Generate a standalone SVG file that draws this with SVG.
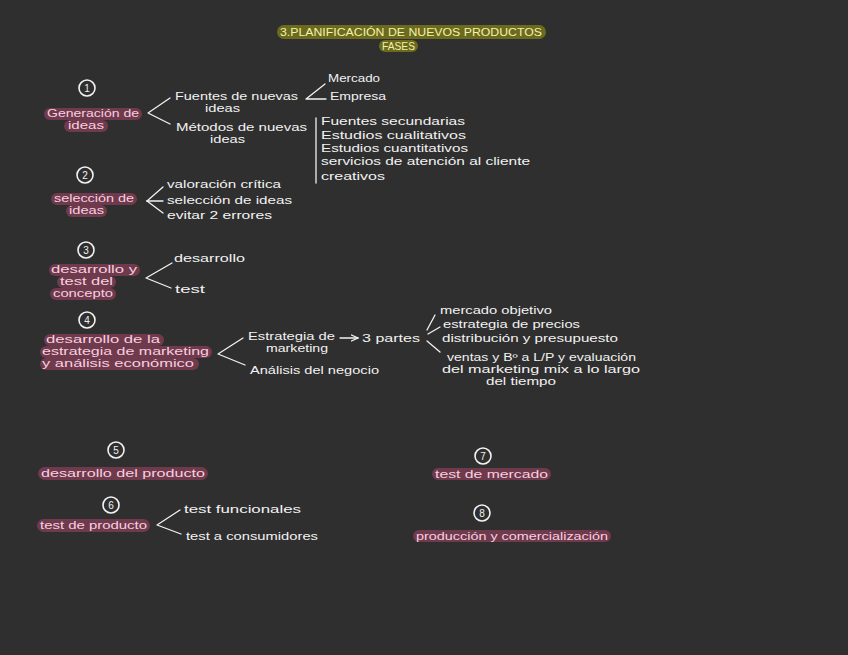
<svg xmlns="http://www.w3.org/2000/svg" width="848" height="655" viewBox="0 0 848 655">
<defs>
<style>
text{font-family:"Liberation Sans","DejaVu Sans",sans-serif;font-size:10px}
.w{fill:#f2f2f2}
.p{fill:#f7cfe0}
.y{fill:#f3f2a6;font-size:11px}
.hl{fill:#6f3a4c}
.hy{fill:#6b6a1f}
.c{fill:none;stroke:#f2f2f2;stroke-width:1.6}
.n{fill:#f2f2f2;font-size:10px;text-anchor:middle}
.ln{fill:none;stroke:#f2f2f2;stroke-width:1.3;stroke-linecap:round;stroke-linejoin:round}
</style>
<marker id="ah" viewBox="0 0 10 10" refX="9" refY="5" markerWidth="6" markerHeight="6" orient="auto"><path d="M0,1 L9,5 L0,9" fill="none" stroke="#f2f2f2" stroke-width="1.5"/></marker>
</defs>
<rect width="848" height="655" fill="#2f2f2f"/>

<g id="title">
<rect class="hy" x="277" y="25" width="269" height="14" rx="7"/>
<text class="y" x="280" y="36" textLength="262" lengthAdjust="spacingAndGlyphs">3.PLANIFICACIÓN DE NUEVOS PRODUCTOS</text>
<rect class="hy" x="379" y="40" width="39" height="12" rx="6"/>
<text class="y" x="382" y="50" textLength="33" lengthAdjust="spacingAndGlyphs">FASES</text>
</g>

<g id="num1"><circle class="c" cx="87" cy="88" r="8"/><text class="n" x="87" y="91.5">1</text></g>
<g id="num2"><circle class="c" cx="85" cy="175" r="8"/><text class="n" x="85" y="178.5">2</text></g>
<g id="num3"><circle class="c" cx="86" cy="250" r="8"/><text class="n" x="86" y="253.5">3</text></g>
<g id="num4"><circle class="c" cx="87" cy="320" r="8"/><text class="n" x="87" y="323.5">4</text></g>
<g id="num5"><circle class="c" cx="116" cy="450" r="8"/><text class="n" x="116" y="453.5">5</text></g>
<g id="num6"><circle class="c" cx="111" cy="505" r="8"/><text class="n" x="111" y="508.5">6</text></g>
<g id="num7"><circle class="c" cx="483" cy="456" r="8"/><text class="n" x="483" y="459.5">7</text></g>
<g id="num8"><circle class="c" cx="482" cy="513" r="8"/><text class="n" x="482" y="516.5">8</text></g>

<g id="generacion">
<rect class="hl" x="44" y="108" width="98" height="12" rx="6"/>
<rect class="hl" x="64" y="120" width="44" height="12" rx="6"/>
<text class="p" x="47" y="117" textLength="92" lengthAdjust="spacingAndGlyphs">Generación de</text>
<text class="p" x="68" y="129" textLength="36" lengthAdjust="spacingAndGlyphs">ideas</text>
</g>
<g id="fuentes">
<text class="w" x="175" y="100" textLength="123" lengthAdjust="spacingAndGlyphs">Fuentes de nuevas</text>
<text class="w" x="205" y="112" textLength="35" lengthAdjust="spacingAndGlyphs">ideas</text>
</g>
<g id="metodos">
<text class="w" x="176" y="131" textLength="131" lengthAdjust="spacingAndGlyphs">Métodos de nuevas</text>
<text class="w" x="210" y="143" textLength="35" lengthAdjust="spacingAndGlyphs">ideas</text>
</g>
<g id="mercado"><text class="w" x="328" y="82" textLength="52" lengthAdjust="spacingAndGlyphs">Mercado</text></g>
<g id="empresa"><text class="w" x="330" y="100" textLength="56" lengthAdjust="spacingAndGlyphs">Empresa</text></g>
<g id="metodos-lista">
<text class="w" x="321" y="125" textLength="144" lengthAdjust="spacingAndGlyphs">Fuentes secundarias</text>
<text class="w" x="321" y="139" textLength="145" lengthAdjust="spacingAndGlyphs">Estudios cualitativos</text>
<text class="w" x="321" y="152" textLength="147" lengthAdjust="spacingAndGlyphs">Estudios cuantitativos</text>
<text class="w" x="321" y="165" textLength="209" lengthAdjust="spacingAndGlyphs">servicios de atención al cliente</text>
<text class="w" x="321" y="180" textLength="64" lengthAdjust="spacingAndGlyphs">creativos</text>
</g>

<g id="seleccion">
<rect class="hl" x="51" y="193" width="86" height="12" rx="6"/>
<rect class="hl" x="66" y="205" width="41" height="12" rx="6"/>
<text class="p" x="54" y="202" textLength="80" lengthAdjust="spacingAndGlyphs">selección de</text>
<text class="p" x="69" y="214" textLength="35" lengthAdjust="spacingAndGlyphs">ideas</text>
</g>
<g id="valoracion"><text class="w" x="167" y="188" textLength="114" lengthAdjust="spacingAndGlyphs">valoración crítica</text></g>
<g id="seleccion-ideas"><text class="w" x="167" y="204" textLength="125" lengthAdjust="spacingAndGlyphs">selección de ideas</text></g>
<g id="evitar"><text class="w" x="167" y="219" textLength="105" lengthAdjust="spacingAndGlyphs">evitar 2 errores</text></g>

<g id="concepto">
<rect class="hl" x="49" y="264" width="91" height="12" rx="6"/>
<rect class="hl" x="57" y="276" width="59" height="12" rx="6"/>
<rect class="hl" x="50" y="288" width="66" height="12" rx="6"/>
<text class="p" x="51" y="273" textLength="86" lengthAdjust="spacingAndGlyphs">desarrollo y</text>
<text class="p" x="60" y="285" textLength="53" lengthAdjust="spacingAndGlyphs">test del</text>
<text class="p" x="53" y="297" textLength="60" lengthAdjust="spacingAndGlyphs">concepto</text>
</g>
<g id="desarrollo"><text class="w" x="174" y="262" textLength="71" lengthAdjust="spacingAndGlyphs">desarrollo</text></g>
<g id="test"><text class="w" x="175" y="293" textLength="30" lengthAdjust="spacingAndGlyphs">test</text></g>

<g id="estrategia">
<rect class="hl" x="44" y="334" width="120" height="12" rx="6"/>
<rect class="hl" x="40" y="346" width="172" height="12" rx="6"/>
<rect class="hl" x="40" y="358" width="159" height="12" rx="6"/>
<text class="p" x="46" y="343" textLength="114" lengthAdjust="spacingAndGlyphs">desarrollo de la</text>
<text class="p" x="42" y="355" textLength="167" lengthAdjust="spacingAndGlyphs">estrategia de marketing</text>
<text class="p" x="42" y="367" textLength="152" lengthAdjust="spacingAndGlyphs">y análisis económico</text>
</g>
<g id="estrategia-mk">
<text class="w" x="248" y="340" textLength="87" lengthAdjust="spacingAndGlyphs">Estrategia de</text>
<text class="w" x="266" y="352" textLength="62" lengthAdjust="spacingAndGlyphs">marketing</text>
</g>
<g id="tres-partes"><text class="w" x="362" y="342" textLength="58" lengthAdjust="spacingAndGlyphs">3 partes</text></g>
<g id="analisis"><text class="w" x="250" y="374" textLength="129" lengthAdjust="spacingAndGlyphs">Análisis del negocio</text></g>
<g id="mercado-objetivo"><text class="w" x="440" y="314" textLength="112" lengthAdjust="spacingAndGlyphs">mercado objetivo</text></g>
<g id="precios"><text class="w" x="443" y="328" textLength="137" lengthAdjust="spacingAndGlyphs">estrategia de precios</text></g>
<g id="distribucion"><text class="w" x="442" y="342" textLength="176" lengthAdjust="spacingAndGlyphs">distribución y presupuesto</text></g>
<g id="ventas">
<text class="w" x="447" y="361" textLength="189" lengthAdjust="spacingAndGlyphs">ventas y Bº a L/P y evaluación</text>
<text class="w" x="442" y="373" textLength="198" lengthAdjust="spacingAndGlyphs">del marketing mix a lo largo</text>
<text class="w" x="486" y="385" textLength="70" lengthAdjust="spacingAndGlyphs">del tiempo</text>
</g>

<g id="desarrollo-producto">
<rect class="hl" x="38" y="467" width="170" height="13" rx="6.5"/>
<text class="p" x="41" y="477" textLength="164" lengthAdjust="spacingAndGlyphs">desarrollo del producto</text>
</g>
<g id="test-producto">
<rect class="hl" x="37" y="519" width="113" height="13" rx="6.5"/>
<text class="p" x="40" y="529" textLength="107" lengthAdjust="spacingAndGlyphs">test de producto</text>
</g>
<g id="funcionales"><text class="w" x="184" y="513" textLength="117" lengthAdjust="spacingAndGlyphs">test funcionales</text></g>
<g id="consumidores"><text class="w" x="186" y="540" textLength="132" lengthAdjust="spacingAndGlyphs">test a consumidores</text></g>
<g id="test-mercado">
<rect class="hl" x="432" y="468" width="119" height="12" rx="6"/>
<text class="p" x="435" y="477.5" textLength="113" lengthAdjust="spacingAndGlyphs">test de mercado</text>
</g>
<g id="produccion">
<rect class="hl" x="413" y="530" width="198" height="12" rx="6"/>
<text class="p" x="416" y="539.5" textLength="192" lengthAdjust="spacingAndGlyphs">producción y comercialización</text>
</g>

<g id="connectors">
<polyline class="ln" points="170,98 148,113 170,124"/>
<polyline class="ln" points="325,84 306,99 326,99"/>
<line class="ln" x1="316" y1="118" x2="316" y2="183"/>
<line class="ln" x1="147" y1="201" x2="163" y2="187"/>
<line class="ln" x1="147" y1="201" x2="163" y2="201"/>
<line class="ln" x1="147" y1="201" x2="163" y2="213"/>
<polyline class="ln" points="172,263 146,278 171,288"/>
<polyline class="ln" points="243,338 218,354 245,365"/>
<line class="ln" x1="340" y1="338" x2="358" y2="338" marker-end="url(#ah)"/>
<line class="ln" x1="427" y1="330" x2="435" y2="315"/>
<line class="ln" x1="428" y1="334" x2="440" y2="327"/>
<line class="ln" x1="427" y1="341" x2="440" y2="352"/>
<polyline class="ln" points="180,510 157,525 181,534"/>
</g>
</svg>
